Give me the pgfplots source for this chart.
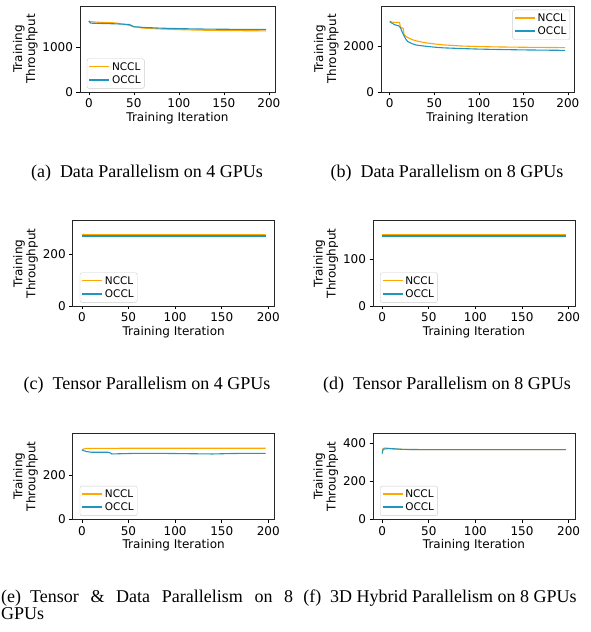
\documentclass[border=0pt]{standalone}
\usepackage{fontspec}
\setmainfont{DejaVu Sans}
\newfontfamily\capfont{Liberation Serif}
\usepackage{pgfplots}
\pgfplotsset{compat=1.18}
\definecolor{nccl}{RGB}{255,166,0}
\definecolor{occl}{RGB}{30,150,192}
\pgfplotsset{
  base/.style={
    scale only axis,
    xmin=-9.85, xmax=206.85, ymin=0,
    xtick={0,50,100,150,200},
    tick align=outside, tick pos=left,
    major tick length=3.5pt,
    every tick/.style={black, line width=0.6pt},
    axis line style={line width=0.7pt, black!85},
    /pgf/number format/assume math mode=true,
    /pgf/number format/1000 sep={},
    scaled ticks=false,
    ticklabel style={font=\fontsize{12}{14}\selectfont},
    xlabel={Training Iteration},
    ylabel={Training\\Throughput},
    xlabel style={font=\fontsize{12}{13}\selectfont, yshift=2.5pt},
    ylabel style={font=\fontsize{12}{13}\selectfont, align=center, yshift=-2pt},
    no markers,
    legend cell align=left,
    legend image code/.code={\draw[#1, line width=1.5pt] (0pt,0.3pt) -- (20pt,0.3pt);},
    legend style={font=\fontsize{10.5}{11.5}\selectfont, draw=black!20, rounded corners=2pt,
      inner sep=1.5pt, row sep=0pt, nodes={inner sep=2pt}},
  },
  ll/.style={legend style={at={(0.035,0.04)}, anchor=south west}},
  ur/.style={legend style={at={(0.98,0.9565)}, anchor=north east}},
  N/.style={draw=nccl, line width=1.1pt},
  O/.style={draw=occl, line width=1.1pt},
}
\begin{document}
\begin{tikzpicture}[x=1pt,y=1pt]
\path[use as bounding box] (0,0) rectangle (590,632);
% (a)
\begin{axis}[base, ll, at={(80pt,540pt)}, anchor=south west, width=195pt, height=86pt, ymax=1924, ytick={0,1000}]
\addplot[N] coordinates {(0,1590) (2,1575) (10,1560) (20,1555) (30,1545) (40,1510) (45,1490) (50,1460) (60,1430) (70,1420) (80,1410) (100,1395) (120,1385) (140,1378) (160,1373) (180,1370) (197,1368)};
\addplot[O] coordinates {(0,1580) (2,1540) (10,1535) (20,1530) (30,1525) (40,1515) (45,1510) (50,1460) (55,1455) (60,1445) (80,1428) (100,1418) (120,1410) (140,1405) (160,1402) (180,1400) (197,1398)};
\legend{NCCL,OCCL}
\end{axis}
% (b)
\begin{axis}[base, ur, at={(381pt,540pt)}, anchor=south west, width=193pt, height=86pt, ymax=3740, ytick={0,2000}]
\addplot[N] coordinates {(0,3080) (2,3040) (5,3030) (11,3030) (12,2800) (15,2780) (16,2500) (18,2420) (20,2370) (25,2280) (30,2220) (40,2140) (50,2090) (60,2050) (80,2000) (100,1975) (120,1960) (150,1945) (197,1930)};
\addplot[O] coordinates {(0,3060) (3,2980) (6,2920) (10,2880) (12,2800) (14,2600) (16,2450) (18,2300) (20,2200) (25,2100) (30,2040) (40,1990) (50,1950) (60,1920) (80,1890) (100,1865) (120,1850) (150,1830) (197,1810)};
\legend{NCCL,OCCL}
\end{axis}
% (c)
\begin{axis}[base, ll, at={(72.7pt,326pt)}, anchor=south west, width=202pt, height=85.3pt, ymax=328, ytick={0,200}]
\addplot[N] coordinates {(0,273) (2,276) (4,274) (50,274.5) (100,274) (150,274) (197,274)};
\addplot[O] coordinates {(0,269) (50,269) (100,269) (150,269) (197,269)};
\legend{NCCL,OCCL}
\end{axis}
% (d)
\begin{axis}[base, ll, at={(373pt,326pt)}, anchor=south west, width=202pt, height=85.3pt, ymax=182, ytick={0,100}]
\addplot[N] coordinates {(0,153.5) (50,153.5) (100,153.5) (150,153.5) (197,153.5)};
\addplot[O] coordinates {(0,149.3) (50,149.3) (100,149.3) (150,149.3) (197,149.3)};
\legend{NCCL,OCCL}
\end{axis}
% (e)
\begin{axis}[base, ll, at={(72.7pt,112.7pt)}, anchor=south west, width=202pt, height=86pt, ymax=391, ytick={0,200}]
\addplot[N] coordinates {(0,315) (2,320) (5,322) (50,323) (100,323) (150,323) (197,323)};
\addplot[O] coordinates {(0,316) (2,312) (5,308) (10,305) (20,305) (28,305) (30,303) (32,297) (40,298) (60,300) (80,300) (100,299) (120,298) (140,297) (160,299) (180,300) (197,300)};
\legend{NCCL,OCCL}
\end{axis}
% (f)
\begin{axis}[base, ll, at={(373pt,112.7pt)}, anchor=south west, width=202pt, height=86pt, ymax=452, ytick={0,200,400}]
\addplot[N] coordinates {(0,355) (1,372) (3,375) (6,374) (10,370) (20,368) (30,366) (50,366) (100,366) (150,366) (197,366)};
\addplot[O] coordinates {(0,345) (1,368) (3,370) (8,372) (15,370) (20,368) (30,367) (50,366) (100,366) (150,366) (197,366)};
\legend{NCCL,OCCL}
\end{axis}
% captions
\node[font=\capfont\fontsize{18}{17}\selectfont] at (147,459) {(a)\enspace Data Parallelism on 4 GPUs};
\node[font=\capfont\fontsize{18}{17}\selectfont] at (447,459) {(b)\enspace Data Parallelism on 8 GPUs};
\node[font=\capfont\fontsize{18}{17}\selectfont] at (147,247) {(c)\enspace Tensor Parallelism on 4 GPUs};
\node[font=\capfont\fontsize{18}{17}\selectfont] at (447,247) {(d)\enspace Tensor Parallelism on 8 GPUs};
\node[anchor=north west, inner sep=0pt] at (1,42) {\parbox[t]{292pt}{\capfont\fontsize{18}{17}\selectfont\hyphenpenalty=10000\tolerance=10000 (e)\enspace Tensor \& Data Parallelism on 8 GPUs}};
\node[font=\capfont\fontsize{18}{17}\selectfont] at (440,34) {(f)\enspace 3D Hybrid Parallelism on 8 GPUs};
\end{tikzpicture}
\end{document}
